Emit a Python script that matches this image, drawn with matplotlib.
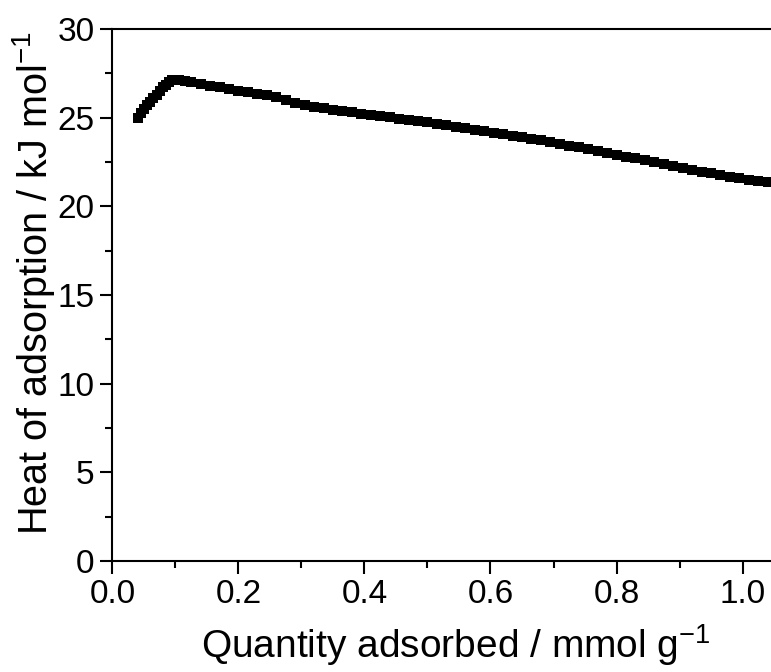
import matplotlib
matplotlib.use("Agg")
import matplotlib.pyplot as plt
from matplotlib.ticker import MultipleLocator

plt.rcParams['font.family'] = ['Liberation Sans', 'DejaVu Sans']
plt.rcParams['mathtext.fontset'] = 'custom'
plt.rcParams['mathtext.rm'] = 'Liberation Sans'
plt.rcParams['mathtext.it'] = 'Liberation Sans:italic'
plt.rcParams['mathtext.bf'] = 'Liberation Sans:bold'

# ilość zaadsorbowana [mmol/g]
quantity = [0.040, 0.045, 0.050, 0.055, 0.060, 0.065, 0.070, 0.075, 0.080, 0.085,
            0.090, 0.095, 0.100, 0.105, 0.115, 0.125, 0.140, 0.155, 0.170, 0.185,
            0.200, 0.215, 0.230, 0.245, 0.260, 0.275, 0.290, 0.305, 0.320, 0.335,
            0.350, 0.365, 0.380, 0.395, 0.410, 0.425, 0.440, 0.455, 0.470, 0.485,
            0.500, 0.515, 0.530, 0.545, 0.560, 0.575, 0.590, 0.605, 0.620, 0.635,
            0.650, 0.665, 0.680, 0.695, 0.710, 0.725, 0.740, 0.755, 0.770, 0.785,
            0.800, 0.815, 0.830, 0.845, 0.860, 0.875, 0.890, 0.905, 0.920, 0.935,
            0.950, 0.965, 0.980, 0.995, 1.010, 1.025, 1.040, 1.055]

# ciepło adsorpcji [kJ/mol]
heat = [25.0, 25.25, 25.5, 25.7, 25.9, 26.1, 26.3, 26.5, 26.7, 26.85,
        27.0, 27.1, 27.12, 27.1, 27.05, 27.0, 26.9, 26.8, 26.7, 26.6,
        26.5, 26.42, 26.35, 26.25, 26.15, 26.0, 25.85, 25.7, 25.6, 25.52,
        25.45, 25.38, 25.3, 25.23, 25.17, 25.1, 25.03, 24.95, 24.88, 24.8,
        24.73, 24.65, 24.57, 24.5, 24.42, 24.33, 24.23, 24.14, 24.05, 23.97,
        23.88, 23.8, 23.72, 23.62, 23.52, 23.42, 23.32, 23.22, 23.12, 23.0,
        22.9, 22.8, 22.72, 22.62, 22.5, 22.38, 22.26, 22.15, 22.05, 21.95,
        21.85, 21.75, 21.65, 21.57, 21.5, 21.43, 21.36, 21.3]

fig = plt.figure(figsize=(7.71, 6.72), dpi=100)
ax = fig.add_axes([0.1459, 0.1652, 0.858, 0.7917])

ax.plot(quantity, heat, 's', color='black', markersize=7.6, markeredgewidth=0)

ax.set_xlim(0, 1.05)
ax.set_ylim(0, 30)
ax.xaxis.set_major_locator(MultipleLocator(0.2))
ax.xaxis.set_minor_locator(MultipleLocator(0.1))
ax.yaxis.set_major_locator(MultipleLocator(5))
ax.yaxis.set_minor_locator(MultipleLocator(2.5))
ax.set_xticks([0.0, 0.2, 0.4, 0.6, 0.8, 1.0])
ax.set_xticklabels(['0.0', '0.2', '0.4', '0.6', '0.8', '1.0'])

for s in ax.spines.values():
    s.set_linewidth(1.5)

ax.tick_params(which='major', direction='out', length=9, width=1.5, labelsize=24, pad=4)
ax.tick_params(which='minor', direction='out', length=5, width=1.5)

ax.set_xlabel('Quantity adsorbed / mmol g$^{-1}$', fontsize=28, labelpad=9)
ax.set_ylabel('Heat of adsorption / kJ mol$^{-1}$', fontsize=28.5, labelpad=0)
ax.xaxis.label.set_x(0.519)
ax.yaxis.label.set_y(0.523)

fig.savefig('out.png', dpi=100)
